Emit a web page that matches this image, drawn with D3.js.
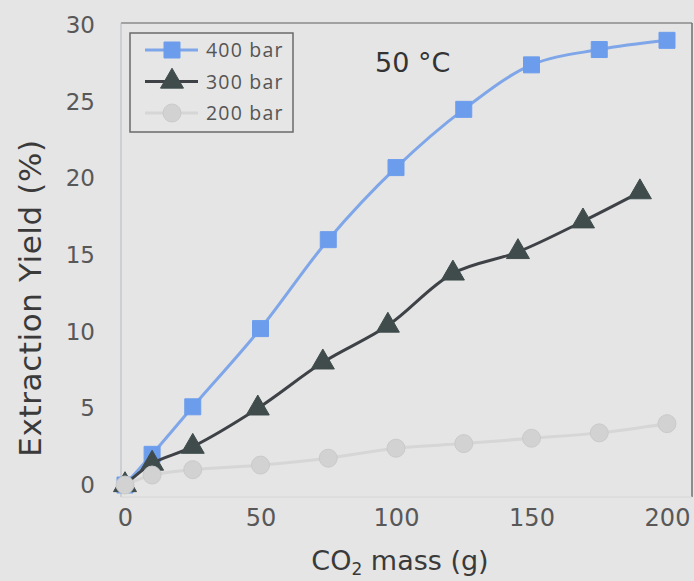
<!DOCTYPE html>
<html lang="en">
<head>
<meta charset="UTF-8">
<title>Extraction Yield vs CO2 mass</title>
<script src="https://d3js.org/d3.v7.min.js"></script>
<style>
  body { margin: 0; background: #e5e5e5; }
  svg { display: block; background: #e5e5e5; }
  .tick text { font-family: "DejaVu Sans", sans-serif; fill: #585858; }
  .title { font-family: "DejaVu Sans", sans-serif; fill: #3a3a3a; }
  .legend text { font-family: "Open Sans", sans-serif; fill: #555; font-size: 19.5px; letter-spacing: 1.2px; }
</style>
</head>
<body>
<div id="chart"></div>
<script>
// data
const x400 = [0, 10, 25, 50, 75, 100, 125, 150, 175, 200];
const y400 = [0, 2.0, 5.1, 10.2, 16.0, 20.7, 24.5, 27.4, 28.4, 29.0];
const x300 = [0, 10, 25, 49, 73, 97, 121, 145, 169, 190];
const y300 = [0, 1.4, 2.5, 5.0, 8.0, 10.4, 13.8, 15.2, 17.2, 19.1];
const x200 = [0, 10, 25, 50, 75, 100, 125, 150, 175, 200];
const y200 = [0, 0.65, 1.0, 1.3, 1.75, 2.4, 2.7, 3.05, 3.4, 4.0];
const xTicks = [0, 50, 100, 150, 200];
const yTicks = [0, 5, 10, 15, 20, 25, 30];
const seriesNames = ["400 bar", "300 bar", "200 bar"];

const W = 694, H = 581;
const plot = { left: 121, right: 692, top: 23, bottom: 497 };

const svg = d3.select("#chart").append("svg")
    .attr("width", W).attr("height", H);

const x = d3.scaleLinear().domain([0, 200]).range([125, 667]);
const y = d3.scaleLinear().domain([0, 30]).range([485, 25]);

// plot frame
svg.append("line").attr("x1", plot.left).attr("x2", plot.right)
    .attr("y1", plot.top).attr("y2", plot.top)
    .attr("stroke", "#8a8a8a").attr("stroke-width", 1.5);
svg.append("line").attr("x1", plot.right).attr("x2", plot.right)
    .attr("y1", plot.top).attr("y2", plot.bottom)
    .attr("stroke", "#6e6e6e").attr("stroke-width", 1.5);
svg.append("line").attr("x1", plot.left).attr("x2", plot.left)
    .attr("y1", plot.top).attr("y2", plot.bottom)
    .attr("stroke", "#b4b8c6").attr("stroke-width", 1);
svg.append("line").attr("x1", plot.left).attr("x2", plot.right)
    .attr("y1", plot.bottom).attr("y2", plot.bottom)
    .attr("stroke", "#d6d6d6").attr("stroke-width", 1);

// axes
const xAxis = svg.append("g")
    .attr("transform", `translate(0,${plot.bottom})`)
    .call(d3.axisBottom(x).tickValues(xTicks).tickSize(0).tickPadding(12));
xAxis.select(".domain").remove();
xAxis.selectAll("text").style("font-size", "24px");

const yAxis = svg.append("g")
    .attr("transform", `translate(${plot.left},0)`)
    .call(d3.axisLeft(y).tickValues(yTicks).tickSize(0).tickPadding(26));
yAxis.select(".domain").remove();
yAxis.selectAll("text").style("font-size", "23px");

// axis titles
svg.append("text").attr("class", "title")
    .attr("transform", "translate(41,298) rotate(-90)")
    .attr("text-anchor", "middle")
    .style("font-size", "31px").style("letter-spacing", "0.6px")
    .text("Extraction Yield (%)");

const xt = svg.append("text").attr("class", "title")
    .attr("x", 400).attr("y", 570)
    .attr("text-anchor", "middle")
    .style("font-size", "27px");
xt.append("tspan").text("CO");
xt.append("tspan").attr("dy", 5).style("font-size", "17px").text("2");
xt.append("tspan").attr("dy", -5).text(" mass (g)");

svg.append("text").attr("class", "title")
    .attr("x", 375).attr("y", 72)
    .style("font-size", "27px").style("fill", "#333")
    .text("50 °C");

// series
const series = [
    { name: seriesNames[0], xs: x400, ys: y400, line: "#7ea6e8", fill: "#6c9ded", stroke: "#6c9ded",
      symbol: d3.symbolSquare, size: 256 },
    { name: seriesNames[1], xs: x300, ys: y300, line: "#3e4247", fill: "#3f4c4b", stroke: "#3f4c4b",
      symbol: d3.symbolTriangle, size: 229 },
    { name: seriesNames[2], xs: x200, ys: y200, line: "#d6d6d6", fill: "#d2d2d2", stroke: "#cacaca",
      symbol: d3.symbolCircle, size: 254 }
];

const line = d3.line()
    .x(d => x(d[0])).y(d => y(d[1]))
    .curve(d3.curveCatmullRom.alpha(0.5));

series.forEach(s => {
    const pts = s.xs.map((v, i) => [v, s.ys[i]]);
    svg.append("path").datum(pts)
        .attr("d", line)
        .attr("fill", "none")
        .attr("stroke", s.line)
        .attr("stroke-width", 3);
    svg.selectAll(null).data(pts).enter().append("path")
        .attr("transform", d => `translate(${x(d[0])},${y(d[1])})`)
        .attr("d", d3.symbol().type(s.symbol).size(s.size))
        .attr("fill", s.fill)
        .attr("stroke", s.stroke)
        .attr("stroke-width", 1);
});

// legend
const legend = svg.append("g").attr("class", "legend");
legend.append("rect")
    .attr("x", 130).attr("y", 33).attr("width", 163).attr("height", 99)
    .attr("fill", "#e6e6e6").attr("stroke", "#6a6a6a").attr("stroke-width", 1.5);

series.forEach((s, i) => {
    const ly = 50 + i * 31.5;
    legend.append("line")
        .attr("x1", 145).attr("x2", 198).attr("y1", ly).attr("y2", ly)
        .attr("stroke", s.line).attr("stroke-width", 3);
    legend.append("path")
        .attr("transform", `translate(172,${ly})`)
        .attr("d", d3.symbol().type(s.symbol).size(s.size))
        .attr("fill", s.fill).attr("stroke", s.stroke);
    legend.append("text")
        .attr("x", 206).attr("y", ly + 7)
        .text(s.name);
});
</script>
</body>
</html>
